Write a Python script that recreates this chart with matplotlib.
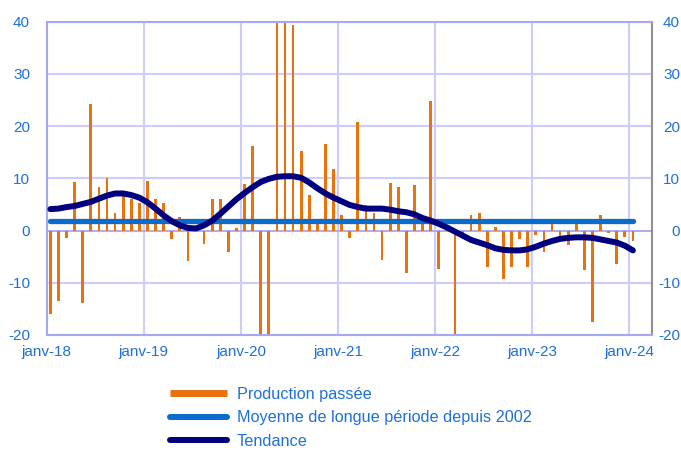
import matplotlib
matplotlib.use("Agg")
import matplotlib.pyplot as plt
from matplotlib.lines import Line2D
import numpy as np

plt.rcParams['font.family'] = ['Liberation Sans', 'DejaVu Sans']
plt.rcParams['axes.unicode_minus'] = False

# données mensuelles, janv-18 .. janv-24
production = [
    -16.0, -13.4, -1.4, 9.3, -13.8, 24.3, 8.3, 10.1, 3.4, 7.0, 6.1, 5.3,
    9.4, 6.0, 5.2, -1.7, 2.6, -5.9, 0.8, -2.6, 6.1, 6.1, -4.1, 0.4,
    9.0, 16.2, -22.0, -22.0, 45.0, 43.0, 39.3, 15.2, 6.8, 1.2, 16.6, 11.7,
    3.0, -1.4, 20.7, 4.8, 3.4, -5.6, 9.1, 8.3, -8.2, 8.7, 2.0, 24.9,
    -7.4, 0.5, -21.0, -0.8, 3.0, 3.4, -7.0, 0.7, -9.2, -6.9, -1.7, -6.9,
    -0.9, -4.2, 1.3, -1.7, -2.7, 1.3, -7.5, -17.6, 3.0, -0.5, -6.4, -1.3,
    -2.0,
]
tendance = [
    4.1, 4.2, 4.5, 4.7, 5.1, 5.5, 6.1, 6.7, 7.1, 7.1, 6.8, 6.3,
    5.4, 4.2, 2.9, 1.8, 1.0, 0.5, 0.4, 1.0, 1.9, 3.2, 4.6, 6.0,
    7.2, 8.3, 9.3, 9.9, 10.3, 10.4, 10.4, 10.1, 9.2, 8.1, 7.1, 6.3,
    5.6, 4.9, 4.5, 4.2, 4.2, 4.2, 4.0, 3.7, 3.5, 3.1, 2.4, 1.9,
    1.3, 0.6, -0.2, -1.0, -1.8, -2.3, -2.8, -3.4, -3.7, -3.8, -3.8, -3.6,
    -3.1, -2.5, -2.0, -1.6, -1.4, -1.3, -1.3, -1.4, -1.7, -2.0, -2.3, -2.9,
    -3.8,
]
moyenne_lp = 1.8
tick_labels = ['janv-18', 'janv-19', 'janv-20', 'janv-21', 'janv-22', 'janv-23', 'janv-24']

bleu_txt = '#1E70D8'
orange = '#E8720C'
bleu = '#0A6CCB'
marine = '#00007F'
grille = '#CCCCFF'

x = np.arange(len(production)) + 0.45

fig = plt.figure(figsize=(6.81, 4.5), dpi=100)
ax1 = fig.add_axes([0.0686, 0.2556, 0.8893, 0.6962])

ax1.bar(x, production, width=0.33, color=orange, zorder=2)
ax1.plot(x, [moyenne_lp] * len(x), color=bleu, lw=3.8, solid_capstyle='round', zorder=3)
ax1.plot(x, tendance, color=marine, lw=4.3, solid_capstyle='round', zorder=4)
ax1.axhline(0, color='#A8A8F0', lw=1.2, zorder=1)

ax1.set_xlim(0, 74.85)
ax1.set_ylim(-20, 40)
ax1.set_yticks(range(-20, 41, 10))
ax1.set_xticks(range(0, 73, 12))
ax1.set_xticklabels(tick_labels)
ax1.grid(True, color=grille, lw=1.5, zorder=0)
ax1.set_axisbelow(True)
ax1.tick_params(axis='both', length=0, labelsize=11, colors=bleu_txt)
ax1.tick_params(axis='x', pad=7)
ax1.tick_params(axis='y', pad=12)
for s in ['left', 'top', 'bottom']:
    ax1.spines[s].set_color('#A8A8F0')
    ax1.spines[s].set_linewidth(1.5)
ax1.spines['right'].set_color('#909090')
ax1.spines['right'].set_linewidth(1.5)

# axe de droite (même échelle)
ax2 = ax1.twinx()
ax2.set_ylim(-20, 40)
ax2.set_yticks(range(-20, 41, 10))
ax2.tick_params(axis='y', length=0, labelsize=11, colors=bleu_txt, pad=20)
for lab in ax2.get_yticklabels():
    lab.set_horizontalalignment('right')
for s in ax2.spines.values():
    s.set_visible(False)

# légende en bas
handles = [
    Line2D([], [], color=orange, lw=5, solid_capstyle='butt'),
    Line2D([], [], color=bleu, lw=4.3, solid_capstyle='round'),
    Line2D([], [], color=marine, lw=4.3, solid_capstyle='round'),
]
labels = ['Production passée', 'Moyenne de longue période depuis 2002', 'Tendance']
leg = fig.legend(handles, labels, loc='upper left', bbox_to_anchor=(0.25, 0.140),
                 frameon=False, fontsize=11.7, handlelength=3.5, handletextpad=0.6,
                 labelspacing=0.52, borderpad=0, borderaxespad=0)
for t in leg.get_texts():
    t.set_color(bleu_txt)

fig.savefig('out.png', dpi=100)
